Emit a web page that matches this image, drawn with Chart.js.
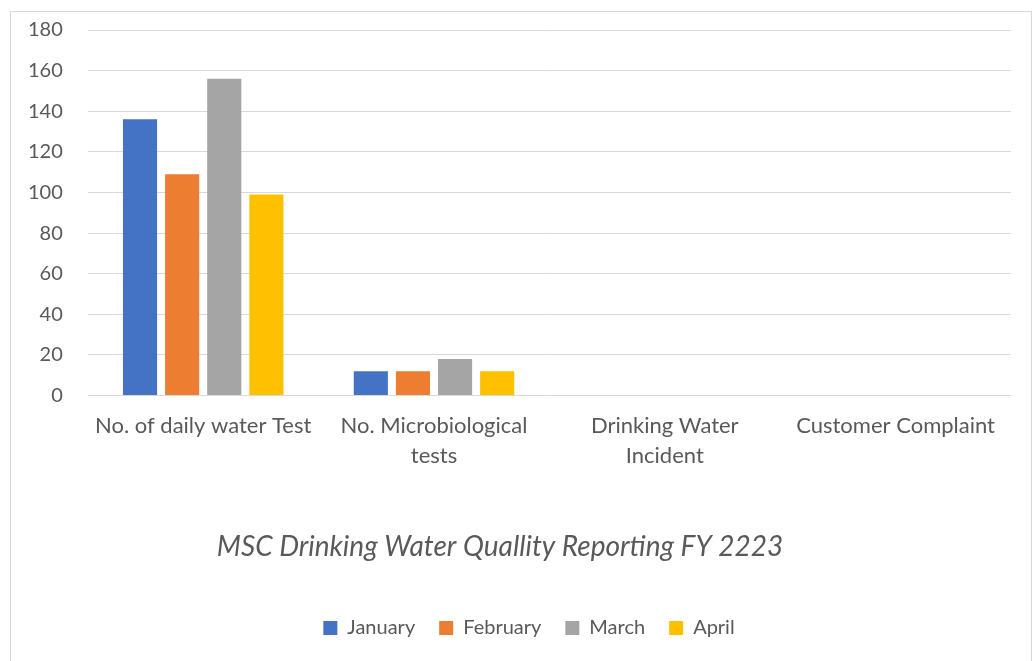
<!DOCTYPE html>
<html>
<head>
<meta charset="utf-8">
<script src="https://cdn.jsdelivr.net/npm/chart.js@4.4.1/dist/chart.umd.min.js"></script>
<style>
  html, body { margin: 0; padding: 0; background: #ffffff; width: 1034px; height: 661px; overflow: hidden; }
  #frame { position: absolute; left: 10px; top: 11px; width: 1022px; height: 660px; border: 1px solid #d9d9d9; box-sizing: border-box; background: #fff; }
  #wrap { position: absolute; left: 0; top: -7px; width: 1034px; height: 668px; }
</style>
</head>
<body>
<div id="frame"></div>
<div id="wrap"><canvas id="c"></canvas></div>
<script>
const categories = [
  "No. of daily water Test",
  ["No. Microbiological", "tests"],
  ["Drinking Water", "Incident"],
  "Customer Complaint"
];
const january  = [136, 12, 0, 0];
const february = [109, 12, 0, 0];
const march    = [156, 18, 0, 0];
const april    = [99, 12, 0, 0];
const yTicks   = { min: 0, max: 180, step: 20 };
const chartTitle = "MSC Drinking Water Quallity Reporting FY 2223";

const FONT = "Lato, 'Liberation Sans', sans-serif";
const TXT = "#595959";

// small horizontal offsets of the title and legend blocks (as in the original layout)
const shiftBlocks = {
  id: "shiftBlocks",
  afterLayout(chart) {
    if (chart.legend) { chart.legend.left += 22; chart.legend.right += 22; }
    if (chart.titleBlock) { chart.titleBlock.left -= 7; chart.titleBlock.right -= 7; }
  }
};

new Chart(document.getElementById("c"), {
  type: "bar",
  data: {
    labels: categories,
    datasets: [
      { label: "January",  data: january,  backgroundColor: "#4472C4" },
      { label: "February", data: february, backgroundColor: "#ED7D31" },
      { label: "March",    data: march,    backgroundColor: "#A5A5A5" },
      { label: "April",    data: april,    backgroundColor: "#FFC000" }
    ]
  },
  plugins: [shiftBlocks],
  options: {
    responsive: true,
    maintainAspectRatio: false,
    animation: false,
    datasets: { bar: { categoryPercentage: 0.73, barPercentage: 0.81 } },
    layout: { padding: { left: 3, right: 23, top: 4, bottom: 13 } },
    scales: {
      x: {
        grid: { display: false },
        border: { display: false },
        ticks: { color: TXT, font: { family: FONT, size: 22, lineHeight: 1.36 }, padding: 7, maxRotation: 0, autoSkip: false }
      },
      y: {
        min: yTicks.min, max: yTicks.max,
        grid: { color: "#d9d9d9", lineWidth: 1, drawTicks: false },
        border: { display: false },
        ticks: { stepSize: yTicks.step, color: TXT, font: { family: FONT, size: 20 }, padding: 25 }
      }
    },
    plugins: {
      tooltip: { enabled: false },
      title: {
        display: true, text: chartTitle, position: "bottom", weight: 500,
        color: TXT, font: { family: FONT, size: 28, style: "italic", weight: "normal" },
        padding: { top: 53, bottom: 30 }
      },
      legend: {
        position: "bottom", weight: 3000,
        labels: { color: TXT, font: { family: FONT, size: 20 }, boxWidth: 14, boxHeight: 14, padding: 24 }
      }
    }
  }
});
</script>
</body>
</html>
